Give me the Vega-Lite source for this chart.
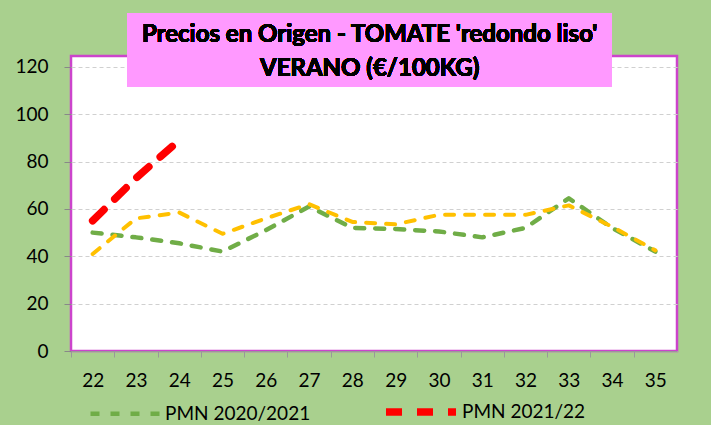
{
  "$schema": "https://vega.github.io/schema/vega-lite/v6.json",
  "width": 606,
  "height": 295,
  "autosize": {"type": "none"},
  "padding": {"left": 71, "top": 56, "right": 34, "bottom": 74},
  "background": "#a9d08e",
  "config": {
    "view": {"fill": "white", "stroke": "#cc44cc", "strokeWidth": 2.5},
    "font": "Lato"
  },
  "data": {
    "values": [
      {"semana": 22, "serie": "PMN 2020/2021", "precio": 50},
      {"semana": 23, "serie": "PMN 2020/2021", "precio": 48},
      {"semana": 24, "serie": "PMN 2020/2021", "precio": 45.5},
      {"semana": 25, "serie": "PMN 2020/2021", "precio": 42},
      {"semana": 26, "serie": "PMN 2020/2021", "precio": 51},
      {"semana": 27, "serie": "PMN 2020/2021", "precio": 61},
      {"semana": 28, "serie": "PMN 2020/2021", "precio": 52},
      {"semana": 29, "serie": "PMN 2020/2021", "precio": 51.5},
      {"semana": 30, "serie": "PMN 2020/2021", "precio": 50.5},
      {"semana": 31, "serie": "PMN 2020/2021", "precio": 48},
      {"semana": 32, "serie": "PMN 2020/2021", "precio": 52},
      {"semana": 33, "serie": "PMN 2020/2021", "precio": 64.5},
      {"semana": 34, "serie": "PMN 2020/2021", "precio": 52},
      {"semana": 35, "serie": "PMN 2020/2021", "precio": 42},
      {"semana": 22, "serie": "PMN 2019/2020", "precio": 41},
      {"semana": 23, "serie": "PMN 2019/2020", "precio": 56},
      {"semana": 24, "serie": "PMN 2019/2020", "precio": 58.5},
      {"semana": 25, "serie": "PMN 2019/2020", "precio": 49.5},
      {"semana": 26, "serie": "PMN 2019/2020", "precio": 56},
      {"semana": 27, "serie": "PMN 2019/2020", "precio": 62},
      {"semana": 28, "serie": "PMN 2019/2020", "precio": 54.5},
      {"semana": 29, "serie": "PMN 2019/2020", "precio": 53.5},
      {"semana": 30, "serie": "PMN 2019/2020", "precio": 57.5},
      {"semana": 31, "serie": "PMN 2019/2020", "precio": 57.5},
      {"semana": 32, "serie": "PMN 2019/2020", "precio": 57.5},
      {"semana": 33, "serie": "PMN 2019/2020", "precio": 61.5},
      {"semana": 34, "serie": "PMN 2019/2020", "precio": 52.5},
      {"semana": 35, "serie": "PMN 2019/2020", "precio": 42.5},
      {"semana": 22, "serie": "PMN 2021/22", "precio": 55},
      {"semana": 23, "serie": "PMN 2021/22", "precio": 73},
      {"semana": 24, "serie": "PMN 2021/22", "precio": 89}
    ]
  },
  "layer": [
    {
      "mark": {"type": "line", "strokeCap": "round", "strokeJoin": "round"},
      "encoding": {
        "x": {
          "field": "semana", "type": "quantitative",
          "scale": {"domain": [21.5, 35.5], "nice": false, "zero": false},
          "axis": {
            "title": null,
            "values": [22, 23, 24, 25, 26, 27, 28, 29, 30, 31, 32, 33, 34, 35],
            "format": "d",
            "grid": false,
            "domainColor": "#999999",
            "tickColor": "#999999",
            "tickSize": 6,
            "tickOffset": -21.64,
            "labelOffset": 21.64,
            "labelFont": "Lato",
            "labelFontSize": 19,
            "labelColor": "#000000",
            "labelPadding": 14,
            "labelFlush": false
          }
        },
        "y": {
          "field": "precio", "type": "quantitative",
          "scale": {"domain": [0, 124.6], "nice": false},
          "axis": {
            "title": null,
            "values": [0, 20, 40, 60, 80, 100, 120],
            "grid": true,
            "gridColor": "#d0d0d0",
            "gridDash": [4, 3],
            "domain": false,
            "tickColor": "#888888",
            "tickSize": 7,
            "labelFont": "Lato",
            "labelFontSize": 19,
            "labelColor": "#000000",
            "labelPadding": 16
          }
        },
        "color": {
          "field": "serie", "type": "nominal",
          "scale": {"domain": ["PMN 2020/2021", "PMN 2021/22", "PMN 2019/2020"], "range": ["#70ad47", "#ff0000", "#ffc000"]},
          "legend": {
            "values": ["PMN 2020/2021", "PMN 2021/22"],
            "title": null,
            "orient": "none",
            "direction": "horizontal",
            "legendX": 17,
            "legendY": 317,
            "symbolType": "stroke",
            "symbolSize": 4900,
            "labelFont": "Lato",
            "labelFontSize": 19,
            "labelColor": "#000000",
            "columnPadding": 60,
            "labelOffset": 2
          }
        },
        "strokeDash": {
          "field": "serie", "type": "nominal",
          "scale": {"type": "ordinal", "domain": ["PMN 2020/2021", "PMN 2021/22", "PMN 2019/2020"], "range": [[9, 11], [16, 15], [9, 11]]},
          "legend": {"values": ["PMN 2020/2021", "PMN 2021/22"]}
        },
        "strokeWidth": {
          "field": "serie", "type": "nominal",
          "scale": {"type": "ordinal", "domain": ["PMN 2020/2021", "PMN 2021/22", "PMN 2019/2020"], "range": [4.5, 7.5, 4]},
          "legend": {"values": ["PMN 2020/2021", "PMN 2021/22"]}
        }
      }
    },
    {
      "mark": {"type": "rect", "fill": "#ff99ff"},
      "encoding": {
        "x": {"datum": 22.8, "type": "quantitative", "scale": {"domain": [21.5, 35.5], "nice": false, "zero": false}},
        "x2": {"datum": 33.99},
        "y": {"datum": 142.8, "type": "quantitative", "scale": {"domain": [0, 124.6], "nice": false}},
        "y2": {"datum": 111.5}
      }
    },
    {
      "mark": {"type": "text", "font": "Lato", "fontWeight": "bold", "fontSize": 24, "color": "#000000", "align": "center", "baseline": "middle", "lineHeight": 34},
      "encoding": {
        "x": {"datum": 28.4, "type": "quantitative", "scale": {"domain": [21.5, 35.5], "nice": false, "zero": false}},
        "y": {"datum": 133.5, "type": "quantitative", "scale": {"domain": [0, 124.6], "nice": false}},
        "text": {"value": ["Precios en Origen - TOMATE 'redondo liso'", "VERANO (€/100KG)"]}
      }
    }
  ]
}
